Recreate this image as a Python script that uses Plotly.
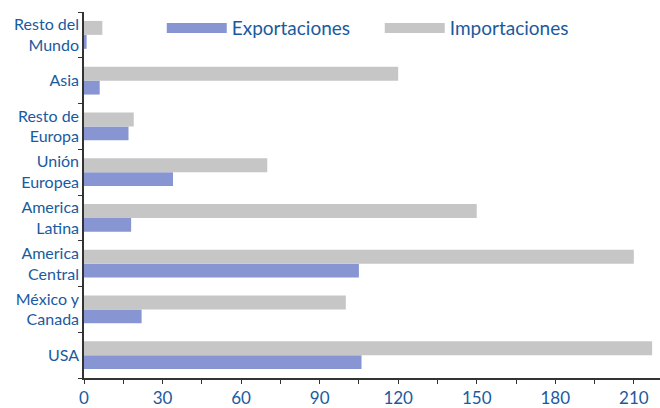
import plotly.graph_objects as go

# Regions listed bottom to top (Plotly places the first category at the bottom)
regiones = [
    "USA",
    "México y<br>Canada",
    "America<br>Central",
    "America<br>Latina",
    "Unión<br>Europea",
    "Resto de<br>Europa",
    "Asia",
    "Resto del<br>Mundo",
]
exportaciones = [106, 22, 105, 18, 34, 17, 6, 1]
importaciones = [217, 100, 210, 150, 70, 19, 120, 7]

x_ticks = [0, 30, 60, 90, 120, 150, 180, 210]

series = [
    ("Exportaciones", exportaciones, "#8796d2"),
    ("Importaciones", importaciones, "#c6c6c6"),
]

azul_texto = "#1a5aa0"
fuente = "Lato"

fig = go.Figure()
for nombre, valores, color in series:
    fig.add_trace(go.Bar(
        y=regiones, x=valores, orientation="h", name=nombre,
        marker=dict(color=color, line=dict(width=0)),
        showlegend=False, legendgroup=nombre,
    ))
# Wide rectangular legend swatches drawn as thick line keys
for nombre, valores, color in series:
    fig.add_trace(go.Scatter(
        x=[None], y=[None], mode="lines", name=nombre, legendgroup=nombre,
        line=dict(color=color, width=20),
    ))

fig.update_layout(
    width=660, height=408,
    margin=dict(l=84, r=0, t=12, b=25),
    paper_bgcolor="white", plot_bgcolor="white",
    barmode="group", bargap=0.39, bargroupgap=0,
    font=dict(family=fuente, color=azul_texto, size=16),
    legend=dict(
        orientation="h", x=0.135, y=1.008, xanchor="left", yanchor="top",
        font=dict(size=19, color=azul_texto),
        itemwidth=60, entrywidth=143, entrywidthmode="pixels",
        bgcolor="rgba(0,0,0,0)",
    ),
    xaxis=dict(
        range=[0, 220], tickvals=x_ticks, ticktext=[str(v) for v in x_ticks],
        showgrid=False, zeroline=False,
        showline=True, linecolor="#333333", linewidth=1.5,
        ticks="outside", ticklen=4, tickcolor="#333333",
        minor=dict(dtick=15, ticks="outside", ticklen=4, tickcolor="#333333"),
        tickfont=dict(size=17, color=azul_texto),
        fixedrange=True,
    ),
    yaxis=dict(
        showgrid=False, zeroline=False,
        showline=True, linecolor="#333333", linewidth=1.5,
        ticks="outside", ticklen=4, tickcolor="#333333", tickson="boundaries",
        tickfont=dict(size=16, color=azul_texto),
        fixedrange=True,
    ),
)

fig.write_html("out.html")
